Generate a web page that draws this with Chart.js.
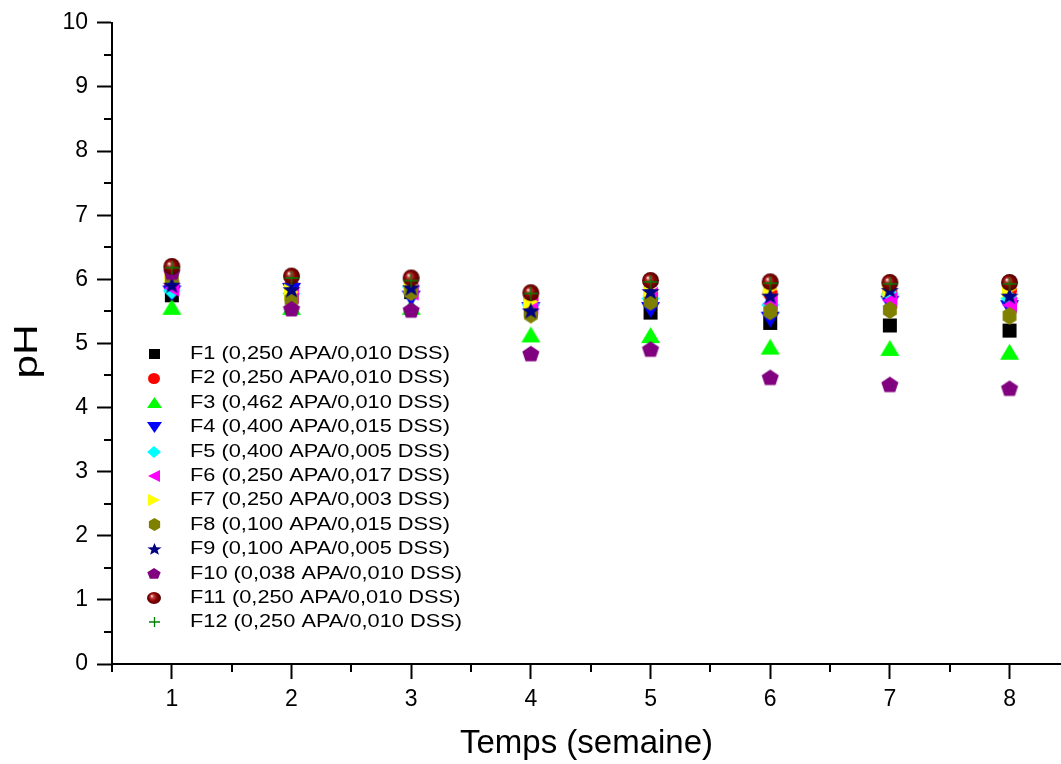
<!DOCTYPE html>
<html>
<head>
<meta charset="utf-8">
<script src="https://cdn.jsdelivr.net/npm/chart.js@4/dist/chart.umd.min.js"></script>
<style>
html,body{margin:0;padding:0;background:#fff;}
#wrap{width:1061px;height:764px;position:relative;}
</style>
</head>
<body>
<div id="wrap"><canvas id="c" width="1061" height="764"></canvas></div>
<script>
// ---- data ----
const weeks = [1, 2, 3, 4, 5, 6, 7, 8];
const F1  = [5.75, 5.78, 5.80, 5.52, 5.48, 5.32, 5.28, 5.20];
const F2  = [5.90, 5.90, 5.88, 5.70, 5.75, 5.78, 5.80, 5.82];
const F3  = [5.57, 5.57, 5.57, 5.14, 5.13, 4.95, 4.93, 4.87];
const F4  = [5.78, 5.82, 5.70, 5.52, 5.52, 5.37, 5.62, 5.55];
const F5  = [5.82, 5.78, 5.88, 5.60, 5.70, 5.60, 5.77, 5.70];
const F6  = [5.86, 5.75, 5.80, 5.58, 5.75, 5.62, 5.67, 5.60];
const F7  = [6.07, 5.80, 5.90, 5.65, 5.82, 5.85, 5.84, 5.85];
const F8  = [6.00, 5.68, 5.80, 5.45, 5.65, 5.50, 5.52, 5.43];
const F9  = [5.90, 5.83, 5.86, 5.50, 5.80, 5.73, 5.82, 5.73];
const F10 = [6.10, 5.53, 5.51, 4.83, 4.90, 4.46, 4.35, 4.29];
const F11 = [6.20, 6.05, 6.02, 5.79, 5.98, 5.96, 5.95, 5.95];
const F12 = [6.18, 6.02, 5.98, 5.78, 5.96, 5.94, 5.93, 5.93];
const seriesNames = [
  'F1 (0,250 APA/0,010 DSS)', 'F2 (0,250 APA/0,010 DSS)', 'F3 (0,462 APA/0,010 DSS)',
  'F4 (0,400 APA/0,015 DSS)', 'F5 (0,400 APA/0,005 DSS)', 'F6 (0,250 APA/0,017 DSS)',
  'F7 (0,250 APA/0,003 DSS)', 'F8 (0,100 APA/0,015 DSS)', 'F9 (0,100 APA/0,005 DSS)',
  'F10 (0,038 APA/0,010 DSS)', 'F11 (0,250 APA/0,010 DSS)', 'F12 (0,250 APA/0,010 DSS)'
];
const yTicks = [0, 1, 2, 3, 4, 5, 6, 7, 8, 9, 10];
const xTicks = [1, 2, 3, 4, 5, 6, 7, 8];
const xTitle = 'Temps (semaine)';
const yTitle = 'pH';

const allSeries = [F1, F2, F3, F4, F5, F6, F7, F8, F9, F10, F11, F12];
const kinds = ['square','circle','triUp','triDown','diamond','triLeft','triRight','hexagon','star','pentagon','ball','plus'];
const colors = ['#000000','#FF0000','#00FF00','#0000FF','#00FFFF','#FF00FF','#FFFF00','#808000','#000080','#800080','#800000','#008000'];
const baseSize = {square:[14,14],circle:[15,15],triUp:[19,16],triDown:[19,16],diamond:[18,17],triLeft:[15,17],triRight:[15,17],hexagon:[16,18],star:[19,18],pentagon:[18,17],ball:[17,17],plus:[14,14]};

function marker(kind, color, sx, sy) {
  const [bw, bh] = baseSize[kind];
  const w = Math.round(bw * sx), h = Math.round(bh * sy);
  const c = document.createElement('canvas');
  c.width = w + 2; c.height = h + 2;
  const g = c.getContext('2d');
  const cx = c.width / 2, cy = c.height / 2, rx = w / 2, ry = h / 2;
  g.fillStyle = color; g.strokeStyle = color;
  const poly = (pts) => { g.beginPath(); pts.forEach((p, i) => i ? g.lineTo(p[0], p[1]) : g.moveTo(p[0], p[1])); g.closePath(); g.fill(); };
  const regular = (n, rot) => { const pts = []; for (let i = 0; i < n; i++) { const a = rot + i * 2 * Math.PI / n; pts.push([cx + rx * Math.cos(a), cy + ry * Math.sin(a)]); } poly(pts); };
  switch (kind) {
    case 'square': g.fillRect(cx - rx, cy - ry, w, h); break;
    case 'circle': g.beginPath(); g.ellipse(cx, cy, rx, ry, 0, 0, 2 * Math.PI); g.fill(); break;
    case 'triUp': poly([[cx, cy - ry], [cx + rx, cy + ry], [cx - rx, cy + ry]]); break;
    case 'triDown': poly([[cx - rx, cy - ry], [cx + rx, cy - ry], [cx, cy + ry]]); break;
    case 'triLeft': poly([[cx - rx, cy], [cx + rx, cy - ry], [cx + rx, cy + ry]]); break;
    case 'triRight': poly([[cx + rx, cy], [cx - rx, cy - ry], [cx - rx, cy + ry]]); break;
    case 'diamond': poly([[cx, cy - ry], [cx + rx, cy], [cx, cy + ry], [cx - rx, cy]]); break;
    case 'hexagon': regular(6, -Math.PI / 2); break;
    case 'pentagon': regular(5, -Math.PI / 2); break;
    case 'star': {
      const pts = [];
      for (let i = 0; i < 10; i++) {
        const a = -Math.PI / 2 + i * Math.PI / 5;
        const f = i % 2 ? 0.42 : 1;
        pts.push([cx + rx * f * Math.cos(a), cy + ry * f * Math.sin(a)]);
      }
      poly(pts); break;
    }
    case 'ball': {
      const gr = g.createRadialGradient(cx - rx * 0.35, cy - ry * 0.35, 0, cx, cy, Math.max(rx, ry));
      gr.addColorStop(0, '#ffffff');
      gr.addColorStop(0.25, '#c04040');
      gr.addColorStop(0.6, '#8a0000');
      gr.addColorStop(1, '#4a0000');
      g.fillStyle = gr;
      g.beginPath(); g.ellipse(cx, cy, rx, ry, 0, 0, 2 * Math.PI); g.fill(); break;
    }
    case 'plus':
      g.lineWidth = 1.3;
      g.beginPath(); g.moveTo(cx - rx, cy); g.lineTo(cx + rx, cy); g.moveTo(cx, cy - ry); g.lineTo(cx, cy + ry); g.stroke(); break;
  }
  return c;
}

const plotMarkers = kinds.map((k, i) => marker(k, colors[i], 1, 1));
const legendMarkers = kinds.map((k, i) => marker(k, colors[i], 0.8, 0.7));

const datasets = allSeries.map((vals, i) => ({
  label: seriesNames[i],
  data: weeks.map((w, j) => ({ x: w, y: vals[j] })),
  pointStyle: plotMarkers[i],
  backgroundColor: colors[i],
  borderColor: colors[i],
  showLine: false,
  order: allSeries.length - 1 - i
}));

const FONT = "'Liberation Sans', Arial, sans-serif";

const extras = {
  id: 'extras',
  afterDraw(chart) {
    const ctx = chart.ctx, xs = chart.scales.x, ys = chart.scales.y, a = chart.chartArea;
    ctx.save();
    ctx.strokeStyle = '#000'; ctx.lineWidth = 2;
    ctx.beginPath();
    for (let v = 0.5; v <= xs.max + 1e-9; v += 1) {
      const p = Math.round(xs.getPixelForValue(v));
      ctx.moveTo(p, a.bottom); ctx.lineTo(p, a.bottom + 8);
    }
    for (let v = 0.5; v < ys.max; v += 1) {
      const p = Math.round(ys.getPixelForValue(v));
      ctx.moveTo(a.left - 8, p); ctx.lineTo(a.left, p);
    }
    ctx.stroke();
    // y title (stretched like the original)
    ctx.fillStyle = '#000';
    ctx.save();
    ctx.translate(28, (a.top + a.bottom) / 2 + 8);
    ctx.rotate(-Math.PI / 2);
    ctx.scale(1.25, 1);
    ctx.font = '34px ' + FONT;
    ctx.textAlign = 'center';
    ctx.textBaseline = 'middle';
    ctx.fillText(yTitle, 0, 0);
    ctx.restore();
    // legend
    const x0 = 154, y0 = 354, dy = 24.4;
    ctx.font = '18px ' + FONT;
    ctx.textBaseline = 'middle';
    ctx.textAlign = 'left';
    seriesNames.forEach((name, i) => {
      const y = y0 + i * dy;
      const m = legendMarkers[i];
      ctx.drawImage(m, Math.round(x0 - m.width / 2), Math.round(y - m.height / 2));
      ctx.save();
      ctx.translate(190, y);
      ctx.scale(1.21, 1);
      ctx.fillText(name, 0, 0);
      ctx.restore();
    });
    ctx.restore();
  }
};

new Chart(document.getElementById('c'), {
  type: 'scatter',
  data: { datasets },
  options: {
    responsive: false,
    animation: false,
    layout: { autoPadding: false, padding: { top: 20, right: 0, left: 0, bottom: 0 } },
    plugins: { legend: { display: false }, tooltip: { enabled: false } },
    scales: {
      x: {
        type: 'linear', min: 0.5, max: 8.43,
        afterBuildTicks: s => { s.ticks = xTicks.map(v => ({ value: v })); },
        afterFit: s => { s.height = 100; },
        ticks: { color: '#000', font: { size: 23, family: FONT }, padding: 7, maxRotation: 0, autoSkip: false },
        grid: { drawOnChartArea: false, tickLength: 15, tickWidth: 2, tickColor: '#000', color: '#000' },
        border: { display: true, color: '#000', width: 2 },
        title: { display: true, text: xTitle, color: '#000', font: { size: 33, family: FONT }, padding: { top: 0, bottom: 0 } }
      },
      y: {
        type: 'linear', min: 0, max: 10,
        afterBuildTicks: s => { s.ticks = yTicks.map(v => ({ value: v })); },
        afterFit: s => { s.width = 112; },
        ticks: { color: '#000', font: { size: 23, family: FONT }, padding: 9 },
        grid: { drawOnChartArea: false, tickLength: 15, tickWidth: 2, tickColor: '#000', color: '#000' },
        border: { display: true, color: '#000', width: 2 },
        title: { display: false }
      }
    }
  },
  plugins: [extras]
});
</script>
</body>
</html>
